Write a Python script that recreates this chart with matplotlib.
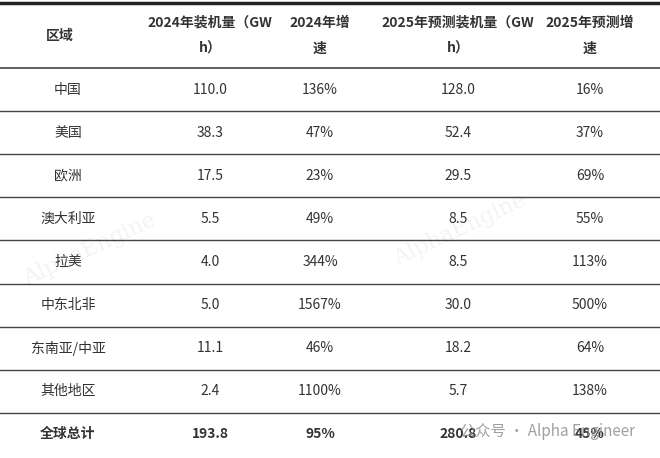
import matplotlib.pyplot as plt

plt.rcParams['font.family'] = ['Noto Sans CJK SC', 'DejaVu Sans']

headers = ["区域", "2024年装机量（GW\nh）", "2024年增\n速", "2025年预测装机量（GW\nh）", "2025年预测增\n速"]
regions = ["中国", "美国", "欧洲", "澳大利亚", "拉美", "中东北非", "东南亚/中亚", "其他地区", "全球总计"]
inst_2024 = ["110.0", "38.3", "17.5", "5.5", "4.0", "5.0", "11.1", "2.4", "193.8"]
growth_2024 = ["136%", "47%", "23%", "49%", "344%", "1567%", "46%", "1100%", "95%"]
inst_2025 = ["128.0", "52.4", "29.5", "8.5", "8.5", "30.0", "18.2", "5.7", "280.8"]
growth_2025 = ["16%", "37%", "69%", "55%", "113%", "500%", "64%", "138%", "45%"]

W, H = 660, 458
fig = plt.figure(figsize=(W / 100, H / 100), dpi=100)
ax = fig.add_axes([0, 0, 1, 1])
ax.set_xlim(0, W)
ax.set_ylim(H, 0)
ax.axis("off")

col_x = [68, 210, 320, 458, 590]
txt = "#333333"

ax.plot([0, W], [3, 3], color="#222222", lw=2.5)
ax.plot([0, W], [68, 68], color="#444444", lw=1.2)
for i, h in enumerate(headers):
    ax.text(col_x[i] - (8 if i == 0 else 0), 36, h, ha="center", va="center", fontsize=10,
            fontweight="bold", color=txt, linespacing=2.1)

row_h = 43.1
cols = [regions, inst_2024, growth_2024, inst_2025, growth_2025]
for r in range(len(regions)):
    yc = 68 + row_h * (r + 0.5)
    last = r == len(regions) - 1
    for c, vals in enumerate(cols):
        ax.text(col_x[c], yc, vals[r], ha="center", va="center", fontsize=10, color=txt,
                fontweight="bold" if last else "normal")
    if not last:
        y = 68 + row_h * (r + 1)
        ax.plot([0, W], [y, y], color="#444444", lw=1.0)

# watermarks
for x, y in [(90, 250), (460, 230)]:
    ax.text(x, y, "AlphaEngine", rotation=25, fontsize=16, color="#000000", alpha=0.05,
            ha="center", va="center", family="DejaVu Serif")
ax.text(460, 432, "公众号 · Alpha Engineer", fontsize=11, color="#888888", alpha=0.8,
        ha="left", va="center")

fig.savefig("out.png", dpi=100)
